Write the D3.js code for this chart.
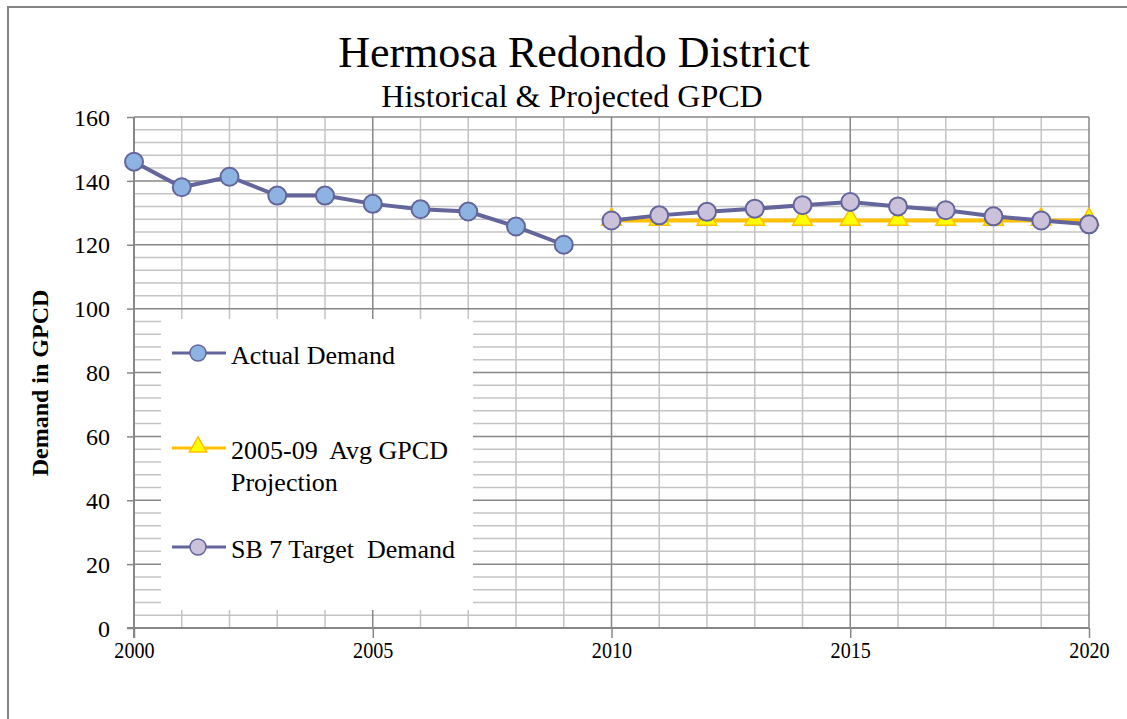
<!DOCTYPE html>
<html>
<head>
<meta charset="utf-8">
<script src="https://cdn.jsdelivr.net/npm/d3@7"></script>
<style>
  body { margin: 0; background: #fff; }
  svg { display: block; font-family: "Liberation Serif", "DejaVu Serif", serif; }
</style>
</head>
<body>
<svg id="chart"></svg>
<script>
// data
var actualYears = [2000, 2001, 2002, 2003, 2004, 2005, 2006, 2007, 2008, 2009];
var actualValues = [146, 138, 141.3, 135.4, 135.4, 132.8, 131.1, 130.4, 125.7, 120];
var projYears = [2010, 2011, 2012, 2013, 2014, 2015, 2016, 2017, 2018, 2019, 2020];
var avgValues = [127.6, 127.6, 127.6, 127.6, 127.6, 127.6, 127.6, 127.6, 127.6, 127.6, 127.6];
var targetValues = [127.6, 129.2, 130.3, 131.3, 132.4, 133.4, 132.0, 130.8, 128.9, 127.6, 126.4];
var xTicks = [2000, 2005, 2010, 2015, 2020];
var yTicks = [0, 20, 40, 60, 80, 100, 120, 140, 160];
var seriesNames = ["Actual Demand", ["2005-09  Avg GPCD", "Projection"], "SB 7 Target  Demand"];

var W = 1127, H = 719;
var svg = d3.select("#chart").attr("width", W).attr("height", H);

svg.append("rect").attr("width", W).attr("height", H).attr("fill", "#fff");
// outer chart border (runs off the right/bottom edge)
svg.append("rect")
    .attr("x", 8).attr("y", 7).attr("width", W + 10).attr("height", H + 10)
    .attr("fill", "none").attr("stroke", "#848484").attr("stroke-width", 2);

var x = d3.scaleLinear().domain([2000, 2020]).range([134, 1089]);
var y = d3.scaleLinear().domain([0, 160]).range([628, 117]);

var minorCol = "#c4c4c4", majorCol = "#878787";

// gridlines - minor first
var grid = svg.append("g");
grid.selectAll(".hminor")
    .data(d3.range(0, 161, 4).filter(function(v) { return v % 20 != 0; }))
  .enter().append("line")
    .attr("x1", x(2000)).attr("x2", x(2020))
    .attr("y1", y).attr("y2", y)
    .attr("stroke", minorCol).attr("stroke-width", 1.5);
grid.selectAll(".vminor")
    .data(d3.range(2001, 2020).filter(function(v) { return v % 5 != 0; }))
  .enter().append("line")
    .attr("x1", x).attr("x2", x)
    .attr("y1", y(0)).attr("y2", y(160))
    .attr("stroke", minorCol).attr("stroke-width", 1.5);
grid.selectAll(".hmajor")
    .data(yTicks.slice(1))
  .enter().append("line")
    .attr("x1", x(2000)).attr("x2", x(2020))
    .attr("y1", y).attr("y2", y)
    .attr("stroke", majorCol).attr("stroke-width", 1.5);
grid.selectAll(".vmajor")
    .data(xTicks.slice(1))
  .enter().append("line")
    .attr("x1", x).attr("x2", x)
    .attr("y1", y(0)).attr("y2", y(160))
    .attr("stroke", majorCol).attr("stroke-width", 1.5);

// axes
var yAxis = svg.append("g")
    .attr("transform", "translate(" + x(2000) + ",0)")
    .call(d3.axisLeft(y).tickValues(yTicks).tickSize(7).tickSizeOuter(0).tickPadding(17));
var xAxis = svg.append("g")
    .attr("transform", "translate(0," + y(0) + ")")
    .call(d3.axisBottom(x).tickValues(xTicks).tickFormat(d3.format("d")).tickSize(10).tickSizeOuter(0).tickPadding(3));
[yAxis, xAxis].forEach(function(a) {
  a.select(".domain").attr("stroke", majorCol).attr("stroke-width", 2);
  a.selectAll(".tick line").attr("stroke", majorCol).attr("stroke-width", 1.5);
  a.selectAll("text").attr("font-family", "Liberation Serif").attr("font-size", 24).attr("fill", "#000");
});
yAxis.selectAll("text").attr("dy", "0.34em");
// x labels are drawn slightly condensed in the original
xAxis.selectAll("text").attr("transform", "scale(0.84,1)");
// axis line continues past zero
yAxis.select(".domain").attr("d", "M0," + y(160) + "V" + (y(0) + 10));
xAxis.select(".domain").attr("d", "M" + (x(2000) - 7) + ",0H" + x(2020));

svg.append("text")
    .attr("transform", "translate(48,383) rotate(-90)")
    .attr("text-anchor", "middle")
    .attr("font-weight", "bold")
    .attr("font-size", 24)
    .text("Demand in GPCD");

// titles
svg.append("text")
    .attr("x", 574).attr("y", 67)
    .attr("text-anchor", "middle")
    .attr("font-size", 44)
    .text("Hermosa Redondo District");
svg.append("text")
    .attr("x", 572).attr("y", 107)
    .attr("text-anchor", "middle")
    .attr("font-size", 32)
    .text("Historical & Projected GPCD");

// series
var lineCol = "#63659b";
var line = d3.line().x(function(d) { return x(d[0]); }).y(function(d) { return y(d[1]); });
var actual = d3.zip(actualYears, actualValues);
var avg = d3.zip(projYears, avgValues);
var target = d3.zip(projYears, targetValues);

var tri = d3.symbol().type(d3.symbolTriangle).size(170);

svg.append("path").datum(avg).attr("d", line)
    .attr("fill", "none").attr("stroke", "#ffc000").attr("stroke-width", 4);
svg.selectAll(".tri").data(avg).enter().append("path")
    .attr("d", tri)
    .attr("transform", function(d) { return "translate(" + x(d[0]) + "," + (y(d[1]) - 1) + ")"; })
    .attr("fill", "#ffff00").attr("stroke", "#ffc000").attr("stroke-width", 1.5);

svg.append("path").datum(actual).attr("d", line)
    .attr("fill", "none").attr("stroke", lineCol).attr("stroke-width", 4);
svg.selectAll(".act").data(actual).enter().append("circle")
    .attr("cx", function(d) { return x(d[0]); })
    .attr("cy", function(d) { return y(d[1]); })
    .attr("r", 9)
    .attr("fill", "#8db3e2").attr("stroke", lineCol).attr("stroke-width", 2);

svg.append("path").datum(target).attr("d", line)
    .attr("fill", "none").attr("stroke", lineCol).attr("stroke-width", 4);
svg.selectAll(".tgt").data(target).enter().append("circle")
    .attr("cx", function(d) { return x(d[0]); })
    .attr("cy", function(d) { return y(d[1]); })
    .attr("r", 9)
    .attr("fill", "#ccc1da").attr("stroke", lineCol).attr("stroke-width", 2);

// legend
var legend = svg.append("g");
legend.append("rect")
    .attr("x", 161).attr("y", 319).attr("width", 312).attr("height", 291)
    .attr("fill", "#fff");
var legY = [353, 448, 547];
var legStyles = [
  {stroke: lineCol, fill: "#8db3e2", shape: "circle"},
  {stroke: "#ffc000", fill: "#ffff00", shape: "tri"},
  {stroke: lineCol, fill: "#ccc1da", shape: "circle"}
];
seriesNames.forEach(function(name, i) {
  var g = legend.append("g").attr("transform", "translate(0," + legY[i] + ")");
  var st = legStyles[i];
  g.append("line").attr("x1", 172).attr("x2", 226)
      .attr("stroke", st.stroke).attr("stroke-width", 3);
  if (st.shape == "circle") {
    g.append("circle").attr("cx", 198).attr("r", 8)
        .attr("fill", st.fill).attr("stroke", lineCol).attr("stroke-width", 1.5);
  } else {
    g.append("path").attr("d", d3.symbol().type(d3.symbolTriangle).size(130))
        .attr("transform", "translate(198,-1)")
        .attr("fill", st.fill).attr("stroke", "#ffc000").attr("stroke-width", 1.5);
  }
  var lines = Array.isArray(name) ? name : [name];
  lines.forEach(function(s, j) {
    g.append("text").attr("x", 231).attr("y", 11 + j * 32)
        .attr("font-size", 26).style("white-space", "pre").text(s);
  });
});
</script>
</body>
</html>
